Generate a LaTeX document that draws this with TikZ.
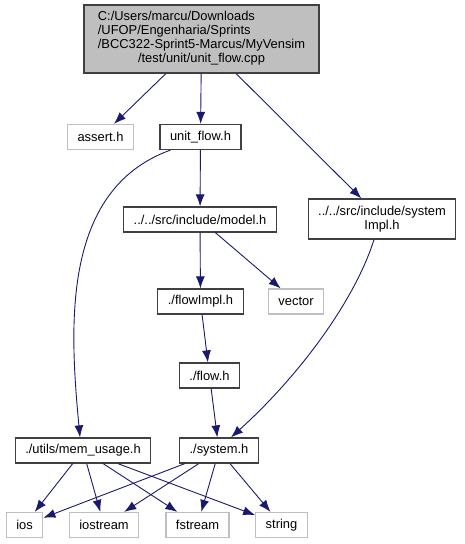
\documentclass[tikz,border=0pt]{standalone}
\usepackage{fontspec}
\setmainfont{Liberation Sans}
\usetikzlibrary{arrows.meta}
\definecolor{edgeblue}{HTML}{191970}
\definecolor{boxgray}{HTML}{BFBFBF}
\definecolor{boxline}{HTML}{404040}
\tikzset{
 box/.style={draw=boxline,line width=1.2pt,align=center,minimum height=25pt,
             inner xsep=10pt,inner ysep=2pt,font=\fontsize{12.9}{14}\selectfont},
 extbox/.style={box,draw=boxgray},
 arrow/.style={-{Latex[length=12pt,width=9pt]},draw=edgeblue,line width=0.9pt}
}

\begin{document}
\begin{tikzpicture}[x=1pt,y=-1pt]
\useasboundingbox (0,0) rectangle (465,544);
% root file
\node[box,fill=boxgray,minimum width=235pt,minimum height=68pt] (main) at (201.5,39)
  {\begin{tabular}{@{}l@{}}C:/Users/marcu/Downloads\\/UFOP/Engenharia/Sprints\\
   /BCC322-Sprint5-Marcus/MyVensim\\
   \multicolumn{1}{@{}c@{}}{/test/unit/unit\_flow.cpp}\end{tabular}};
% headers
\node[extbox] (assert) at (100.5,137) {assert.h};
\node[box] (unitflow) at (200.5,137) {unit\_flow.h};
\node[box,minimum height=40pt] (sysimpl) at (382,219) {../../src/include/system\\Impl.h};
\node[box] (model) at (200,219.5) {../../src/include/model.h};
\node[box] (flowimpl) at (200.5,301.5) {./flowImpl.h};
\node[extbox] (vector) at (296,301.5) {vector};
\node[box] (flow) at (209.5,375.5) {./flow.h};
\node[box] (memusage) at (83,450.5) {./utils/mem\_usage.h};
\node[box] (system) at (219,450.5) {./system.h};
% std headers
\node[extbox] (ios) at (24.5,525) {ios};
\node[extbox] (iostream) at (104,525) {iostream};
\node[extbox] (fstream) at (197.5,525) {fstream};
\node[extbox] (string) at (281.5,525) {string};

\draw[arrow] (main) -- (assert);
\draw[arrow] (main) -- (unitflow);
\draw[arrow] (main) -- (sysimpl);
\draw[arrow] (unitflow) -- (model);
\draw[arrow] ([xshift=11pt]unitflow.south west) .. controls (60,190) and (70,330) .. ([xshift=-3pt]memusage.north);
\draw[arrow] (model) -- (flowimpl);
\draw[arrow] (model) -- (vector);
\draw[arrow] (flowimpl) -- (flow);
\draw[arrow] (flow) -- (system);
\draw[arrow] ([xshift=-8pt]sysimpl.south) .. controls (355,300) and (300,375) .. ([xshift=12pt]system.north);
\foreach \dst in {ios,iostream,fstream,string}{
  \draw[arrow] (memusage) -- (\dst);
  \draw[arrow] (system) -- (\dst);
}
\end{tikzpicture}
\end{document}
